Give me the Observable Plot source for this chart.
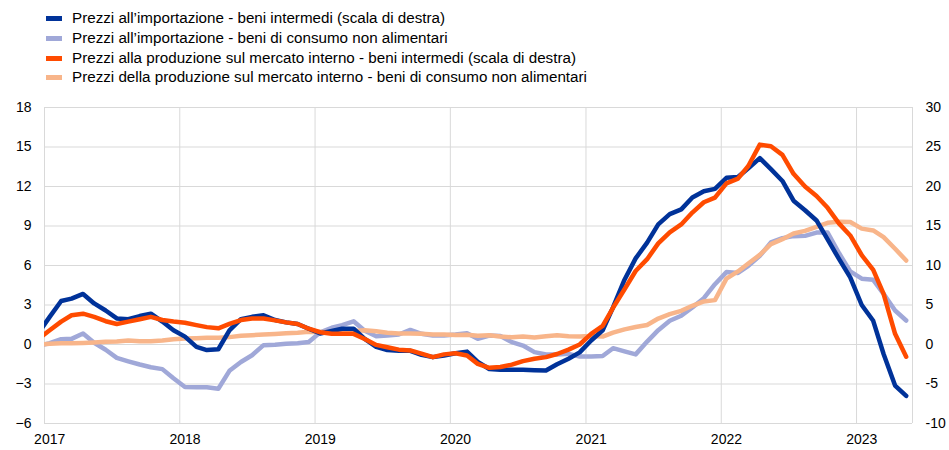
<!DOCTYPE html>
<html>
<head>
<meta charset="utf-8">
<script src="https://cdn.jsdelivr.net/npm/d3@7"></script>
<script src="https://cdn.jsdelivr.net/npm/@observablehq/plot@0.6"></script>
<style>
  html, body { margin: 0; padding: 0; background: #fff; }
  #wrap { width: 949px; height: 450px; position: relative; font-family: "Liberation Sans", Arial, sans-serif; color: #000; }
  #legend { position: relative; height: 90px; }
  .item { position: absolute; left: 46px; height: 20px; line-height: 20px; font-size: 15.2px; white-space: nowrap; }
  .sw { position: absolute; left: 0; top: 8px; width: 16px; height: 5px; }
  .lab { position: absolute; left: 26px; top: 0; }
</style>
</head>
<body>
<div id="wrap">
  <div id="legend"></div>
  <div id="chart"></div>
</div>
<script>
// Monthly observations (mid-month), Dec 2016 – May 2023
const firstYear = 2016, firstMonth = 11; // December 2016 (0-based month)
const yearLabels = [2017, 2018, 2019, 2020, 2021, 2022, 2023];
const leftTicks = [-6, -3, 0, 3, 6, 9, 12, 15, 18];
const rightTicks = [-10, -5, 0, 5, 10, 15, 20, 25, 30];

const seriesNames = [
  "Prezzi all’importazione - beni intermedi (scala di destra)",
  "Prezzi all’importazione - beni di consumo non alimentari",
  "Prezzi alla produzione sul mercato interno - beni intermedi (scala di destra)",
  "Prezzi della produzione sul mercato interno - beni di consumo non alimentari"
];
const seriesColors = ["#003299", "#a0a8d8", "#ff4b00", "#f8b58a"];

// right scale
const importIntermediate = [
  1.4,
  3.5, 5.5, 5.8, 6.4, 5.2, 4.3, 3.3, 3.2, 3.6, 3.9, 2.9, 1.8,
  1.0, -0.3, -0.7, -0.6, 1.8, 3.2, 3.5, 3.7, 3.1, 2.8, 2.6, 2.0,
  1.4, 1.7, 2.0, 2.0, 0.7, -0.3, -0.7, -0.8, -0.8, -1.3, -1.6, -1.4,
  -1.1, -0.9, -2.2, -3.1, -3.2, -3.2, -3.2, -3.25, -3.3, -2.5, -1.8, -1.0,
  0.5, 1.8, 4.7, 8.2, 10.9, 12.9, 15.2, 16.5, 17.1, 18.6, 19.4, 19.7,
  21.1, 21.2, 22.3, 23.6, 22.2, 20.7, 18.2, 17.0, 15.7, 13.3, 10.8, 8.5,
  5.0, 3.0, -1.2, -5.2, -6.5
];
// left scale
const importConsumer = [
  -0.1,
  0.1, 0.4, 0.43, 0.83, 0.13, -0.4, -1.02, -1.28, -1.52, -1.73, -1.87, -2.56,
  -3.23, -3.24, -3.25, -3.36, -2.0, -1.33, -0.82, -0.05, -0.02, 0.06, 0.09, 0.19,
  0.92, 1.27, 1.47, 1.76, 1.05, 0.63, 0.68, 0.76, 1.11, 0.81, 0.68, 0.68,
  0.76, 0.86, 0.43, 0.68, 0.64, 0.18, -0.08, -0.58, -0.76, -0.76, -0.71, -0.91,
  -0.91, -0.87, -0.28, -0.52, -0.75, 0.22, 1.09, 1.8, 2.18, 2.81, 3.52, 4.58,
  5.5, 5.43, 5.97, 6.73, 7.75, 8.08, 8.23, 8.25, 8.5, 8.5, 6.93, 5.55,
  5.0, 4.91, 3.85, 2.58, 1.82
];
// right scale
const producerIntermediate = [
  0.7,
  1.8, 2.9, 3.7, 3.9, 3.5, 2.95, 2.6, 2.9, 3.2, 3.5, 3.1, 2.9,
  2.75, 2.45, 2.2, 2.05, 2.6, 3.1, 3.3, 3.3, 3.05, 2.8, 2.6, 2.0,
  1.55, 1.35, 1.35, 1.35, 0.7, -0.05, -0.35, -0.65, -0.75, -1.15, -1.6, -1.25,
  -1.1, -1.4, -2.45, -2.95, -2.85, -2.55, -2.1, -1.8, -1.6, -1.2, -0.65, 0.0,
  1.35, 2.35, 4.65, 7.0, 9.3, 10.8, 12.8, 14.2, 15.2, 16.7, 18.0, 18.6,
  20.4, 21.0, 22.6, 25.3, 25.1, 24.0, 21.6, 20.0, 18.8, 17.3, 15.3, 13.8,
  11.3, 9.45, 6.4, 1.35, -1.55
];
// left scale
const producerConsumer = [
  0.0,
  0.05, 0.1, 0.1, 0.12, 0.15, 0.2, 0.23, 0.3, 0.25, 0.25, 0.3, 0.4,
  0.45, 0.48, 0.51, 0.51, 0.56, 0.66, 0.71, 0.76, 0.8, 0.85, 0.9, 0.97,
  0.95, 0.93, 1.0, 1.02, 1.08, 1.0, 0.9, 0.84, 0.84, 0.82, 0.76, 0.76,
  0.72, 0.74, 0.66, 0.7, 0.6, 0.55, 0.6, 0.53, 0.63, 0.7, 0.63, 0.6,
  0.65, 0.6, 0.9, 1.15, 1.33, 1.48, 1.97, 2.3, 2.56, 2.94, 3.27, 3.37,
  5.0, 5.55, 6.15, 6.81, 7.62, 8.0, 8.43, 8.63, 8.94, 9.24, 9.32, 9.3,
  8.8, 8.66, 8.15, 7.27, 6.38
];

const ratio = 24 / 40; // right scale (-10..30) onto left scale (-6..18)

const rows = importIntermediate.map((v, i) => ({
  date: new Date(Date.UTC(firstYear, firstMonth + i, 15)),
  ii: v * ratio,
  ic: importConsumer[i],
  pi: producerIntermediate[i] * ratio,
  pc: producerConsumer[i]
}));

const yearStarts = yearLabels.map(y => new Date(Date.UTC(y, 0, 1)));
const yearMids = yearLabels.map(y => new Date(Date.UTC(y, 0, 15)));
const xEnd = new Date(Date.UTC(2023, 5, 1));

// legend
const legend = document.getElementById("legend");
const rowsY = [8, 28, 48, 67];
seriesNames.forEach((name, i) => {
  const d = document.createElement("div");
  d.className = "item";
  d.style.top = rowsY[i] + "px";
  d.innerHTML = `<span class="sw" style="background:${seriesColors[i]}"></span><span class="lab">${name}</span>`;
  legend.appendChild(d);
});

const lineOpts = { x: "date", strokeWidth: 4.5, strokeLinejoin: "round", strokeLinecap: "round", clip: true };

const chart = Plot.plot({
  width: 949,
  height: 360,
  marginTop: 17,
  marginBottom: 27,
  marginLeft: 44,
  marginRight: 37,
  style: { fontFamily: '"Liberation Sans", Arial, sans-serif', fontSize: "14px", color: "#000", background: "#fff", overflow: "visible" },
  x: { type: "utc", domain: [yearStarts[0], xEnd], label: null },
  y: { domain: [-6, 18], label: null },
  marks: [
    Plot.gridY(leftTicks, { stroke: "#d9d9d9", strokeOpacity: 1, strokeWidth: 1 }),
    Plot.gridX(yearStarts.concat([xEnd]), { stroke: "#d9d9d9", strokeOpacity: 1, strokeWidth: 1 }),
    Plot.axisY(leftTicks, { anchor: "left", tickSize: 0, tickPadding: 13, fontSize: 14, label: null }),
    Plot.axisY(leftTicks, { anchor: "right", tickSize: 0, tickPadding: 13, fontSize: 14, label: null,
      tickFormat: (d, i) => String(rightTicks[i]) }),
    Plot.axisX(yearMids, { tickSize: 0, tickPadding: 11, fontSize: 14, label: null,
      tickFormat: d => String(d.getUTCFullYear()) }),
    Plot.line(rows, { ...lineOpts, y: "ic", stroke: seriesColors[1] }),
    Plot.line(rows, { ...lineOpts, y: "pc", stroke: seriesColors[3] }),
    Plot.line(rows, { ...lineOpts, y: "ii", stroke: seriesColors[0] }),
    Plot.line(rows, { ...lineOpts, y: "pi", stroke: seriesColors[2] })
  ]
});
document.getElementById("chart").appendChild(chart);
</script>
</body>
</html>
